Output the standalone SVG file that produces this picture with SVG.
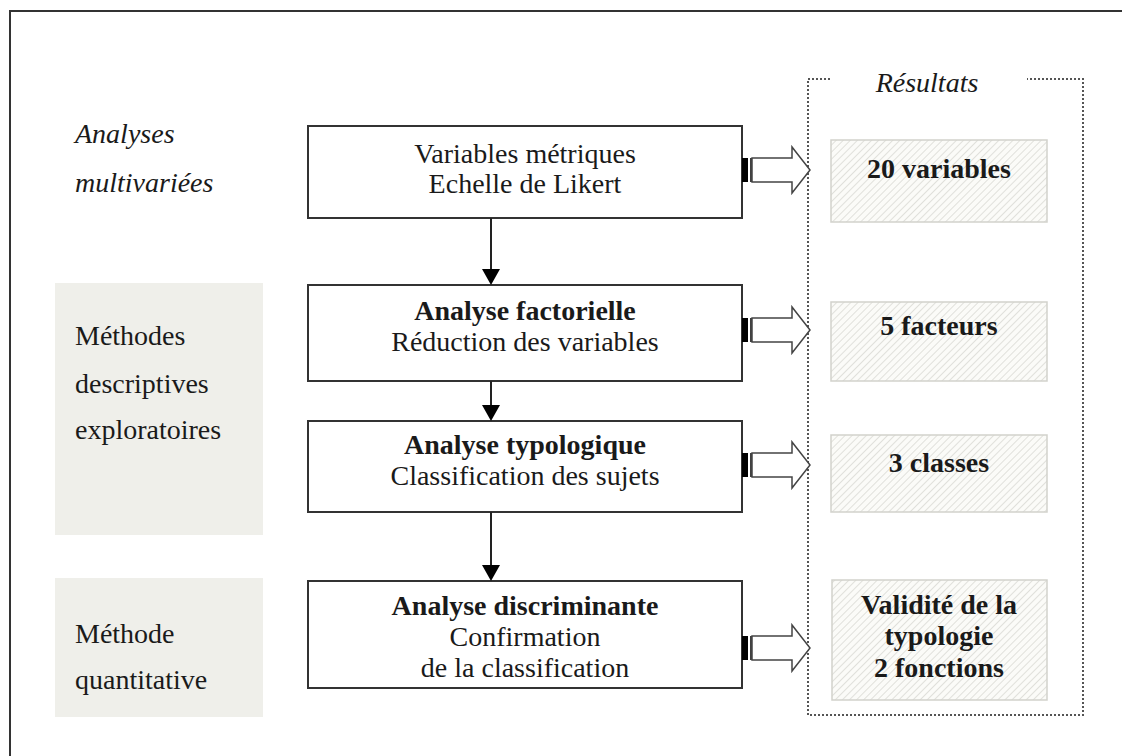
<svg xmlns="http://www.w3.org/2000/svg" width="1122" height="756" viewBox="0 0 1122 756">
<defs>
<pattern id="hatch" patternUnits="userSpaceOnUse" width="5" height="5" patternTransform="rotate(45)">
<rect width="5" height="5" fill="#fbfbf8"/>
<line x1="0" y1="0" x2="0" y2="5" stroke="#d9d9d4" stroke-width="1.6"/>
</pattern>
</defs>
<style>
.t{font-family:"Liberation Serif","Times New Roman",serif;font-size:28px;fill:#1a1a1a}
.c{text-anchor:middle}
.b{font-weight:bold}
.i{font-style:italic}
.box{fill:#ffffff;stroke:#333;stroke-width:2}
.res{fill:url(#hatch);stroke:#d2d2cc;stroke-width:1.5}
.grey{fill:#efefea}
.ln{stroke:#222;stroke-width:2;fill:none}
.hd{fill:#000}
.barrow{fill:#fff;stroke:#444;stroke-width:1.5}
</style>
<rect width="1122" height="756" fill="#fff"/>
<rect x="10" y="11" width="1200" height="800" fill="none" stroke="#333" stroke-width="2"/>

<g id="results-frame">
<path d="M830,79 H808 V715 H1083 V79 H1027" fill="none" stroke="#555" stroke-width="2" stroke-dasharray="2 2"/>
<text class="t i c" x="927" y="92">Résultats</text>
</g>

<g id="label-analyses">
<text class="t i" x="75" y="143">Analyses</text>
<text class="t i" x="75" y="192">multivariées</text>
</g>
<g id="label-descriptives">
<rect class="grey" x="55" y="283" width="208" height="252"/>
<text class="t" x="75" y="345">Méthodes</text>
<text class="t" x="75" y="393">descriptives</text>
<text class="t" x="75" y="439">exploratoires</text>
</g>
<g id="label-quantitative">
<rect class="grey" x="55" y="578" width="208" height="139"/>
<text class="t" x="75" y="643">Méthode</text>
<text class="t" x="75" y="689">quantitative</text>
</g>

<g id="box1">
<rect class="box" x="308" y="126" width="434" height="92"/>
<text class="t c" x="525" y="163">Variables métriques</text>
<text class="t c" x="525" y="193">Echelle de Likert</text>
</g>
<g id="box2">
<rect class="box" x="308" y="285" width="434" height="96"/>
<text class="t c b" x="525" y="320">Analyse factorielle</text>
<text class="t c" x="525" y="351">Réduction des variables</text>
</g>
<g id="box3">
<rect class="box" x="308" y="421" width="434" height="91"/>
<text class="t c b" x="525" y="454">Analyse typologique</text>
<text class="t c" x="525" y="485">Classification des sujets</text>
</g>
<g id="box4">
<rect class="box" x="308" y="581" width="434" height="107"/>
<text class="t c b" x="525" y="615">Analyse discriminante</text>
<text class="t c" x="525" y="646">Confirmation</text>
<text class="t c" x="525" y="677">de la classification</text>
</g>

<g id="res1">
<rect class="res" x="831" y="140" width="216" height="82"/>
<text class="t c b" x="939" y="178">20 variables</text>
</g>
<g id="res2">
<rect class="res" x="831" y="302" width="216" height="79"/>
<text class="t c b" x="939" y="335">5 facteurs</text>
</g>
<g id="res3">
<rect class="res" x="831" y="435" width="216" height="77"/>
<text class="t c b" x="939" y="472">3 classes</text>
</g>
<g id="res4">
<rect class="res" x="832" y="580" width="215" height="120"/>
<text class="t c b" x="939" y="614">Validité de la</text>
<text class="t c b" x="939" y="645">typologie</text>
<text class="t c b" x="939" y="677">2 fonctions</text>
</g>

<g id="connectors">
<line class="ln" x1="491" y1="218" x2="491" y2="270"/>
<polygon class="hd" points="482,269 500,269 491,285"/>
<line class="ln" x1="491" y1="381" x2="491" y2="407"/>
<polygon class="hd" points="482,405 500,405 491,421"/>
<line class="ln" x1="491" y1="512" x2="491" y2="566"/>
<polygon class="hd" points="482,565 500,565 491,581"/>

<g id="arrow1" transform="translate(0,170)">
<rect x="742" y="-12" width="6" height="24" fill="#000"/>
<line x1="751" y1="-12" x2="751" y2="12" stroke="#000" stroke-width="1.5"/>
<path class="barrow" d="M752,-12 H792 V-23 L810,0 L792,23 V12 H752 Z"/>
</g>
<g id="arrow2" transform="translate(0,330)">
<rect x="742" y="-12" width="6" height="24" fill="#000"/>
<line x1="751" y1="-12" x2="751" y2="12" stroke="#000" stroke-width="1.5"/>
<path class="barrow" d="M752,-12 H792 V-23 L810,0 L792,23 V12 H752 Z"/>
</g>
<g id="arrow3" transform="translate(0,465)">
<rect x="742" y="-12" width="6" height="24" fill="#000"/>
<line x1="751" y1="-12" x2="751" y2="12" stroke="#000" stroke-width="1.5"/>
<path class="barrow" d="M752,-12 H792 V-23 L810,0 L792,23 V12 H752 Z"/>
</g>
<g id="arrow4" transform="translate(0,648)">
<rect x="742" y="-12" width="6" height="24" fill="#000"/>
<line x1="751" y1="-12" x2="751" y2="12" stroke="#000" stroke-width="1.5"/>
<path class="barrow" d="M752,-12 H792 V-23 L810,0 L792,23 V12 H752 Z"/>
</g>
</g>
</svg>
